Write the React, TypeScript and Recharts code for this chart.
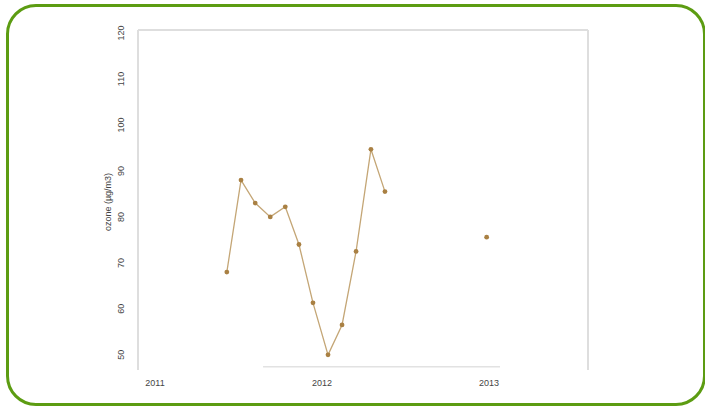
import { Line, LineChart, ReferenceLine, XAxis, YAxis } from "recharts";

// monthly ozone means, decimal years
const dates = [2011.43, 2011.515, 2011.6, 2011.69, 2011.78, 2011.862, 2011.946, 2012.036, 2012.12, 2012.204, 2012.293, 2012.377, 2012.6, 2012.986];
const ozone = [68, 88, 83, 80, 82.2, 74, 61.3, 50, 56.5, 72.5, 94.7, 85.5, null, 75.6];
const yearTicks = [2011, 2012, 2013];
const ozoneTicks = [50, 60, 70, 80, 90, 100, 110, 120];

const data = dates.map((d, i) => ({ date: d, ozone: ozone[i] }));

const X_DOMAIN = [2010.898, 2013.593];
const Y_DOMAIN = [46.7, 120.65];
const FONT = "'Liberation Sans', Arial, sans-serif";
const FRAME = "#dedede";

function RotatedTick({ x, y, payload }: any) {
  return (
    <text
      x={x}
      y={y}
      transform={`rotate(-90, ${x}, ${y})`}
      textAnchor="middle"
      fontSize={9}
      fontFamily={FONT}
      fill="#444"
    >
      {payload.value}
    </text>
  );
}

export default function App() {
  return (
    <div style={{ position: "fixed", left: 0, top: 0, width: 705, height: 406, background: "#fff" }}>
      <div
        style={{
          position: "absolute",
          left: 6,
          top: 4,
          width: 694,
          height: 396,
          border: "3px solid #5c9c12",
          borderRadius: 30,
        }}
      />
      <div style={{ position: "absolute", left: 0, top: 0 }}>
        <LineChart width={705} height={406} data={data} margin={{ top: 30, right: 117, bottom: 6, left: 0 }}>
          <XAxis
            dataKey="date"
            type="number"
            domain={X_DOMAIN}
            ticks={yearTicks}
            tickLine={false}
            axisLine={false}
            height={30}
            tickMargin={4}
            tick={{ fontSize: 9, fontFamily: FONT, fill: "#444" }}
          />
          <YAxis
            domain={Y_DOMAIN}
            ticks={ozoneTicks}
            width={138}
            tickLine={false}
            axisLine={{ stroke: FRAME, strokeWidth: 2 }}
            tick={<RotatedTick />}
            tickMargin={8}
            label={{
              value: "ozone (µg/m3)",
              angle: -90,
              position: "insideLeft",
              offset: 108,
              dy: 2,
              style: { fontSize: 9, fontFamily: FONT, fill: "#444", textAnchor: "middle" },
            }}
          />
          <ReferenceLine y={Y_DOMAIN[1]} stroke={FRAME} strokeWidth={2} ifOverflow="visible" />
          <ReferenceLine x={X_DOMAIN[1]} stroke={FRAME} strokeWidth={2} ifOverflow="visible" />
          <ReferenceLine
            segment={[
              { x: 2011.647, y: 47.4 },
              { x: 2013.066, y: 47.4 },
            ]}
            stroke="#e2e2e2"
            strokeWidth={1.5}
          />
          <Line
            dataKey="ozone"
            stroke="#c4a676"
            strokeWidth={1.3}
            dot={{ r: 2.4, fill: "#a98043", stroke: "none" }}
            connectNulls={false}
            isAnimationActive={false}
          />
        </LineChart>
      </div>
    </div>
  );
}
